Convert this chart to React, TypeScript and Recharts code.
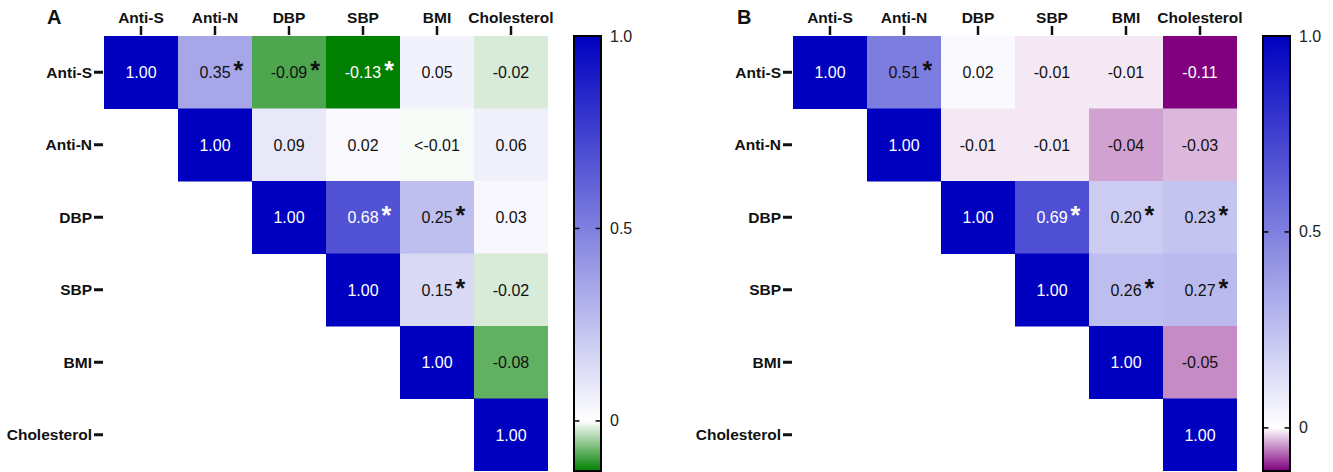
import React from 'react';
import {
  ScatterChart,
  Scatter,
  XAxis,
  YAxis,
  ComposedChart,
  ReferenceArea,
  ReferenceLine,
} from 'recharts';

// ---------- data ----------
const VARIABLES = ['Anti-S', 'Anti-N', 'DBP', 'SBP', 'BMI', 'Cholesterol'];
const INDEX_TICKS = [0, 1, 2, 3, 4, 5];

// upper triangle, row r starts at column r
const A_ROWS = [
  [1.0, 0.35, -0.09, -0.13, 0.05, -0.02],
  [1.0, 0.09, 0.02, -0.004, 0.06],
  [1.0, 0.68, 0.25, 0.03],
  [1.0, 0.15, -0.02],
  [1.0, -0.08],
  [1.0],
];
const A_SIG = [
  [0, 1, 1, 1, 0, 0],
  [0, 0, 0, 0, 0],
  [0, 1, 1, 0],
  [0, 1, 0],
  [0, 0],
  [0],
];
const B_ROWS = [
  [1.0, 0.51, 0.02, -0.01, -0.01, -0.11],
  [1.0, -0.01, -0.01, -0.04, -0.03],
  [1.0, 0.69, 0.2, 0.23],
  [1.0, 0.26, 0.27],
  [1.0, -0.05],
  [1.0],
];
const B_SIG = [
  [0, 1, 0, 0, 0, 0],
  [0, 0, 0, 0, 0],
  [0, 1, 1, 1],
  [0, 1, 1],
  [0, 0],
  [0],
];
const SCALE_TICKS = [0, 0.5, 1];
const SCALE_TICK_LABELS = ['0', '0.5', '1.0'];
const A_MIN = -0.13;
const B_MIN = -0.11;

// ---------- style ----------
const FONT = '"Liberation Sans", Arial, Helvetica, sans-serif';
const POS_COLOR = [0, 0, 192];
const GREEN = [0, 128, 0];
const PURPLE = [128, 0, 128];
const CHART_W = 560;
const CHART_H = 472;
const MARGIN = { top: 6, right: 12, bottom: 1, left: 4 };
const Y_AXIS_W = 100;
const X_AXIS_H = 30;
const PLOT_W = CHART_W - MARGIN.left - MARGIN.right - Y_AXIS_W;
const PLOT_H = CHART_H - MARGIN.top - MARGIN.bottom - X_AXIS_H;
const CELL_W = PLOT_W / 6;
const CELL_H = PLOT_H / 6;

function mix(c: number[], t: number) {
  const r = Math.round(255 + (c[0] - 255) * t);
  const g = Math.round(255 + (c[1] - 255) * t);
  const b = Math.round(255 + (c[2] - 255) * t);
  return [r, g, b];
}

function cellColor(v: number, min: number, neg: number[]) {
  return v >= 0 ? mix(POS_COLOR, Math.min(1, v)) : mix(neg, Math.min(1, v / min));
}

function fmt(v: number) {
  if (v < 0 && v > -0.005) return '<-0.01';
  return v.toFixed(2);
}

const CHAR_W: Record<string, number> = { '.': 0.278, '-': 0.333, '<': 0.584 };
function textWidth(s: string, size: number) {
  let w = 0;
  for (const ch of s) w += CHAR_W[ch] !== undefined ? CHAR_W[ch] : 0.556;
  return w * size;
}

function buildCells(rows: number[][], sig: number[][], min: number, neg: number[]) {
  const out: any[] = [];
  rows.forEach((row, r) => {
    row.forEach((v, k) => {
      const c = cellColor(v, min, neg);
      const lum = 0.2126 * c[0] + 0.7152 * c[1] + 0.0722 * c[2];
      out.push({
        x: r + k,
        y: r,
        value: v,
        label: fmt(v),
        sig: sig[r][k] === 1,
        fill: `rgb(${c[0]},${c[1]},${c[2]})`,
        textColor: lum < 110 ? '#ffffff' : '#111111',
      });
    });
  });
  return out;
}

const CellRect = (props: any) => {
  const { cx, cy, payload } = props;
  if (cx == null || cy == null) return null;
  return (
    <rect
      x={cx - CELL_W / 2}
      y={cy - CELL_H / 2}
      width={CELL_W + 0.5}
      height={CELL_H + 0.5}
      fill={payload.fill}
    />
  );
};

const CellText = (props: any) => {
  const { cx, cy, payload } = props;
  if (cx == null || cy == null) return null;
  const w = textWidth(payload.label, 16);
  return (
    <g>
      <text
        x={cx}
        y={cy + 6}
        textAnchor="middle"
        fontFamily={FONT}
        fontSize={16}
        fill={payload.textColor}
      >
        {payload.label}
      </text>
      {payload.sig && (
        <text
          x={cx + w / 2 + 3}
          y={cy + 7}
          textAnchor="start"
          fontFamily={FONT}
          fontSize={25}
          fontWeight="bold"
          fill={payload.textColor}
        >
          *
        </text>
      )}
    </g>
  );
};

const TopTick = (props: any) => {
  const { x, y, payload } = props;
  return (
    <g>
      <line x1={x} x2={x} y1={y - 10} y2={y - 1} stroke="#111" strokeWidth={2.5} />
      <text
        x={x}
        y={y - 13}
        textAnchor="middle"
        fontFamily={FONT}
        fontSize={15.5}
        fontWeight="bold"
        fill="#111"
      >
        {VARIABLES[payload.value]}
      </text>
    </g>
  );
};

const LeftTick = (props: any) => {
  const { x, y, payload } = props;
  return (
    <g>
      <line x1={x - 10} x2={x - 1} y1={y} y2={y} stroke="#111" strokeWidth={3} />
      <text
        x={x - 12}
        y={y + 5.5}
        textAnchor="end"
        fontFamily={FONT}
        fontSize={15.5}
        fontWeight="bold"
        fill="#111"
      >
        {VARIABLES[payload.value]}
      </text>
    </g>
  );
};

function Heatmap(props: { rows: number[][]; sig: number[][]; min: number; neg: number[]; left: number }) {
  const data = buildCells(props.rows, props.sig, props.min, props.neg);
  return (
    <div style={{ position: 'absolute', left: props.left, top: 0 }}>
      <ScatterChart width={CHART_W} height={CHART_H} margin={MARGIN}>
        <XAxis
          type="number"
          dataKey="x"
          domain={[-0.5, 5.5]}
          ticks={INDEX_TICKS}
          interval={0}
          orientation="top"
          height={X_AXIS_H}
          axisLine={false}
          tickLine={false}
          tickSize={0}
          tickMargin={0}
          tick={<TopTick />}
          allowDataOverflow
        />
        <YAxis
          type="number"
          dataKey="y"
          domain={[-0.5, 5.5]}
          ticks={INDEX_TICKS}
          interval={0}
          reversed
          width={Y_AXIS_W}
          axisLine={false}
          tickLine={false}
          tickSize={0}
          tickMargin={0}
          tick={<LeftTick />}
          allowDataOverflow
        />
        <Scatter data={data} shape={CellRect} isAnimationActive={false} />
        <Scatter data={data} shape={CellText} isAnimationActive={false} />
      </ScatterChart>
    </div>
  );
}

const ScaleTick = (props: any) => {
  const { x, y, payload } = props;
  const i = SCALE_TICKS.indexOf(payload.value);
  return (
    <text x={x + 9} y={y + 5.5} fontFamily={FONT} fontSize={16} fill="#222" textAnchor="start">
      {SCALE_TICK_LABELS[i]}
    </text>
  );
};

function ColorBar(props: { min: number; neg: number[]; left: number; id: string }) {
  const { min, neg, left, id } = props;
  const zeroOff = 1 / (1 - min);
  const barData = [
    { x: 0, y: min },
    { x: 1, y: 1 },
  ];
  return (
    <div style={{ position: 'absolute', left, top: 0 }}>
      <ComposedChart width={80} height={CHART_H} data={barData} margin={{ top: 36, right: 0, bottom: 1, left: 1 }}>
        <defs>
          <linearGradient id={id} x1="0" y1="0" x2="0" y2="1">
            <stop offset="0" stopColor={`rgb(${POS_COLOR.join(',')})`} />
            <stop offset={zeroOff} stopColor="#ffffff" />
            <stop offset="1" stopColor={`rgb(${neg.join(',')})`} />
          </linearGradient>
        </defs>
        <XAxis type="number" dataKey="x" domain={[0, 1]} hide />
        <YAxis
          type="number"
          dataKey="y"
          orientation="right"
          domain={[min, 1]}
          ticks={SCALE_TICKS}
          interval={0}
          width={52}
          axisLine={false}
          tickLine={false}
          tickSize={0}
          tickMargin={0}
          tick={<ScaleTick />}
          allowDataOverflow
        />
        <ReferenceArea
          x1={0}
          x2={1}
          y1={min}
          y2={1}
          fill={`url(#${id})`}
          fillOpacity={1}
          stroke="#000"
          strokeWidth={2}
          ifOverflow="visible"
        />
        {[0, 0.5].map((t) => (
          <ReferenceLine
            key={`l${t}`}
            segment={[
              { x: 0, y: t },
              { x: 0.2, y: t },
            ]}
            stroke="#000"
            strokeWidth={1.5}
            ifOverflow="visible"
          />
        ))}
        {[0, 0.5].map((t) => (
          <ReferenceLine
            key={`r${t}`}
            segment={[
              { x: 0.8, y: t },
              { x: 1, y: t },
            ]}
            stroke="#000"
            strokeWidth={1.5}
            ifOverflow="visible"
          />
        ))}
      </ComposedChart>
    </div>
  );
}

const letterStyle: React.CSSProperties = {
  position: 'absolute',
  top: 7,
  fontFamily: FONT,
  fontWeight: 'bold',
  fontSize: 20,
  lineHeight: '20px',
  color: '#111',
};

export default function App() {
  return (
    <div style={{ position: 'absolute', left: 0, top: 0, width: 1333, height: 472, background: '#fff', overflow: 'hidden' }}>
      <div style={{ ...letterStyle, left: 47 }}>A</div>
      <div style={{ ...letterStyle, left: 737 }}>B</div>
      <Heatmap rows={A_ROWS} sig={A_SIG} min={A_MIN} neg={GREEN} left={0} />
      <ColorBar min={A_MIN} neg={GREEN} left={573} id="gradA" />
      <Heatmap rows={B_ROWS} sig={B_SIG} min={B_MIN} neg={PURPLE} left={689} />
      <ColorBar min={B_MIN} neg={PURPLE} left={1262} id="gradB" />
    </div>
  );
}
